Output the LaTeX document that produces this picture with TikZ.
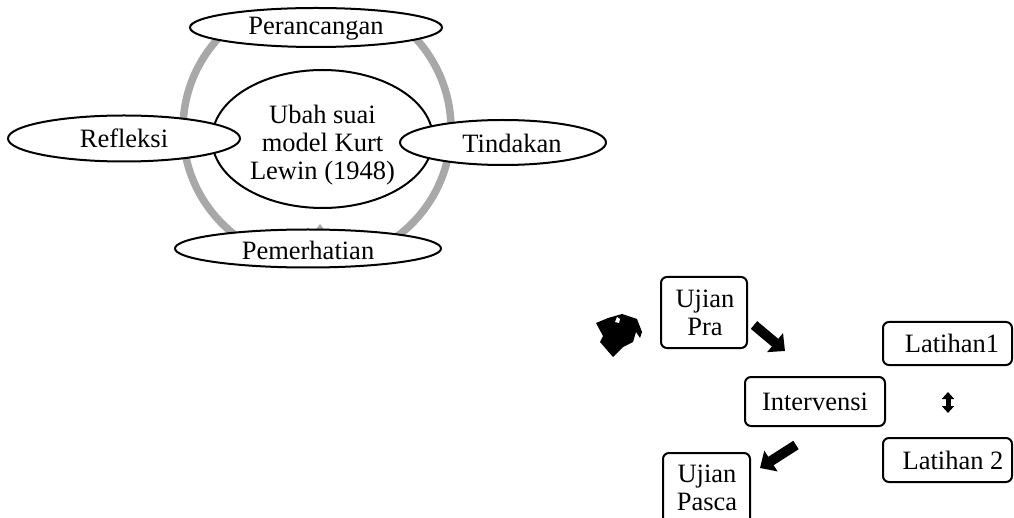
\documentclass[tikz,border=0pt]{standalone}
\usepackage{fontspec}
\setmainfont{Liberation Serif}
\usetikzlibrary{shapes.geometric,arrows.meta}
\definecolor{ringgray}{HTML}{A8A8A8}
\tikzset{
  oval/.style={ellipse, draw=black, line width=2pt, fill=white, inner sep=0pt},
  txt/.style={font=\fontsize{26.5}{28}\selectfont, align=center, inner sep=0pt},
  stepbox/.style={rectangle, rounded corners=6pt, draw=black, line width=2pt, fill=white, inner sep=0pt},
  blockarrow/.style={line width=10pt, -{Triangle[length=13pt,width=24pt]}},
  dblarrow/.style={line width=5pt, {Triangle[length=7pt,width=12pt]}-{Triangle[length=7pt,width=12pt]}}
}
\begin{document}
\begin{tikzpicture}[x=1pt,y=-1pt]
\useasboundingbox (0,0) rectangle (1014,518);
\clip (0,0) rectangle (1014,518);

% cycle: gray ring behind the stage ovals, its ends tucked under the top and bottom ovals
\begin{scope}
  \clip (0,30) rectangle (1014,255);
  \draw[ringgray, line width=7.5pt] (317,129) circle[radius=134pt];
\end{scope}
\fill[ringgray] (320,224) -- (326,232) -- (314,232) -- cycle;

% central oval
\node[oval, minimum width=221pt, minimum height=138pt] (hub) at (322.5,139) {};
\node[txt] (hubtext) at (322.5,145) {Ubah suai\\model Kurt\\Lewin (1948)};

% stage ovals
\node[oval, minimum width=252pt, minimum height=39pt] (plan) at (316,27.5) {};
\node[txt] (plantext) at (316,29) {Perancangan};
\node[oval, minimum width=232pt, minimum height=46pt] (reflect) at (124,138.5) {};
\node[txt] (reflecttext) at (reflect) {Refleksi};
\node[oval, minimum width=206pt, minimum height=45pt] (act) at (503,142.5) {};
\node[txt] (acttext) at (512,143) {Tindakan};
\node[oval, minimum width=266pt, minimum height=38pt] (observe) at (308,248.5) {};
\node[txt] (observetext) at (308,250) {Pemerhatian};

% research procedure boxes
\node[stepbox, minimum width=86pt, minimum height=71pt] (pre) at (704,312.5) {};
\node[txt] (pretext) at (705,313) {Ujian\\Pra};
\node[stepbox, minimum width=140pt, minimum height=49pt] (interv) at (815,401.5) {};
\node[txt] (intervtext) at (interv) {Intervensi};
\node[stepbox, minimum width=87pt, minimum height=71pt] (post) at (706.5,488.5) {};
\node[txt] (posttext) at (707,488) {Ujian\\Pasca};
\node[stepbox, minimum width=129pt, minimum height=43pt] (train1) at (947.5,343.5) {};
\node[txt] (train1text) at (952,343.5) {Latihan1};
\node[stepbox, minimum width=129pt, minimum height=44pt] (train2) at (947.5,460) {};
\node[txt] (train2text) at (953,460) {Latihan 2};

% block arrows
\coordinate (a1s) at (754,325);
\coordinate (a1e) at (785,351);
\draw[blockarrow] (a1s) -- (a1e);
\coordinate (a2s) at (796,445);
\coordinate (a2e) at (760,468);
\draw[blockarrow] (a2s) -- (a2e);
\coordinate (a3s) at (948,392);
\coordinate (a3e) at (948,413);
\draw[dblarrow] (a3s) -- (a3e);

% broken circular arrow glyph
\fill[black] (596,323) -- (608,318) -- (622,314) -- (637,319) -- (642,332)
  -- (640,338) -- (636,332) -- (633,342) -- (623,347) -- (613,357)
  -- (600,342) -- (603,336) -- cycle;
\fill[white] (617,317) -- (620,319) -- (619,323) -- (615,322) -- cycle;
\end{tikzpicture}
\end{document}
